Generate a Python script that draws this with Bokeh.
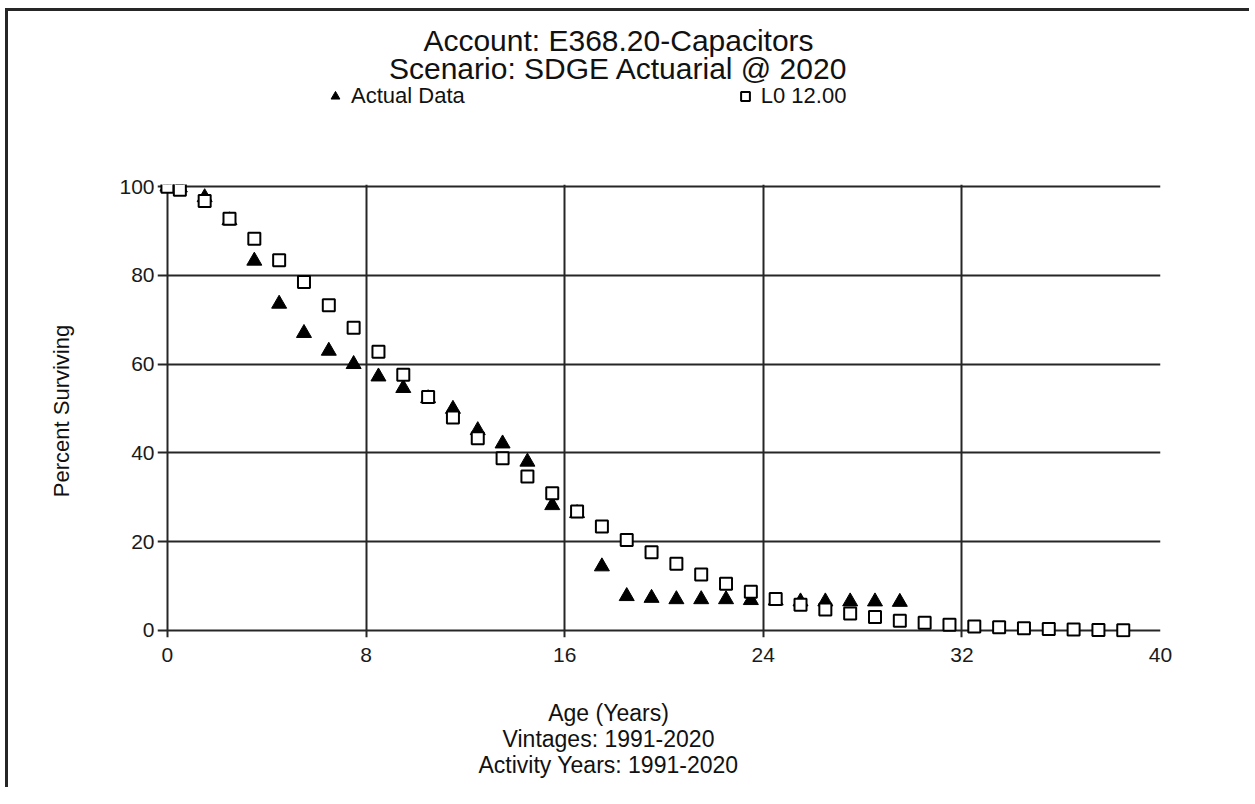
from bokeh.embed import file_html
from bokeh.layouts import column
from bokeh.models import FixedTicker, Label, Legend, LegendItem, Range1d
from bokeh.plotting import figure
from bokeh.resources import INLINE

# Retirement rate study: observed survivors vs. fitted Iowa L0 curve
actual_age = [0, 0.5, 1.5, 2.5, 3.5, 4.5, 5.5, 6.5, 7.5, 8.5, 9.5, 10.5, 11.5,
              12.5, 13.5, 14.5, 15.5, 16.5, 17.5, 18.5, 19.5, 20.5, 21.5, 22.5,
              23.5, 24.5, 25.5, 26.5, 27.5, 28.5, 29.5]
actual_pct = [100.0, 99.8, 97.6, 92.4, 83.3, 73.6, 67.0, 63.0, 60.0, 57.2, 54.6,
              52.3, 49.9, 45.1, 42.1, 38.0, 28.2, 26.4, 14.4, 7.7, 7.3, 7.0, 7.0,
              7.0, 6.8, 6.7, 6.5, 6.5, 6.5, 6.5, 6.4]

curve_age = [0, 0.5, 1.5, 2.5, 3.5, 4.5, 5.5, 6.5, 7.5, 8.5, 9.5, 10.5, 11.5,
             12.5, 13.5, 14.5, 15.5, 16.5, 17.5, 18.5, 19.5, 20.5, 21.5, 22.5,
             23.5, 24.5, 25.5, 26.5, 27.5, 28.5, 29.5, 30.5, 31.5, 32.5, 33.5,
             34.5, 35.5, 36.5, 37.5, 38.5]
curve_pct = [100.0, 99.3, 96.8, 92.8, 88.3, 83.4, 78.5, 73.3, 68.2, 62.8, 57.6,
             52.6, 48.0, 43.3, 38.8, 34.7, 30.9, 26.8, 23.4, 20.4, 17.6, 15.0,
             12.6, 10.5, 8.7, 7.1, 5.8, 4.7, 3.8, 3.0, 2.2, 1.7, 1.3, 0.9, 0.7,
             0.5, 0.3, 0.2, 0.1, 0.05]

x_ticks = [0, 8, 16, 24, 32, 40]
y_ticks = [0, 20, 40, 60, 80, 100]

title_lines = ["Account: E368.20-Capacitors", "Scenario: SDGE Actuarial @ 2020"]
legend_labels = ["Actual Data", "L0 12.00"]
x_label_lines = ["Age (Years)", "Vintages: 1991-2020", "Activity Years: 1991-2020"]
y_label = "Percent Surviving"

FONT = "Liberation Sans"
INK = "#262626"
W = 1244
TITLE_CX = 461         # heading centre, measured from the frame's left edge
CAPTION_CX = 451       # x-caption centre, measured from the frame's left edge


def text_strip(height):
    # plain strip (no axes); its y range lies far above the data, so any
    # series attached to it for the key stays out of view
    f = figure(width=W, height=height, output_backend="svg",
               toolbar_location=None, x_axis_type=None, y_axis_type=None,
               min_border=0, x_range=Range1d(0, 40),
               y_range=Range1d(1000, 1000 + height))
    f.outline_line_color = None
    f.xgrid.visible = False
    f.ygrid.visible = False
    return f


def caption(f, text, cx, y, size, color="#111"):
    f.add_layout(Label(x=cx, y=y, x_units="screen", y_units="screen",
                       text=text, text_align="center", text_baseline="middle",
                       text_font=FONT, text_font_size=size, text_color=color))


# ---------------- main survivor chart ----------------
p = figure(
    width=W, height=507,
    x_range=Range1d(-0.4, 40), y_range=Range1d(-1.6, 100.5),
    output_backend="svg", toolbar_location=None,
    min_border_left=149, min_border_right=92,
    min_border_top=14, min_border_bottom=40,
)
p.outline_line_color = None

# grid lines at the tick values form the box and the short outer tick stubs
for g, ticks in ((p.xgrid, x_ticks), (p.ygrid, y_ticks)):
    g.ticker = FixedTicker(ticks=ticks)
    g.grid_line_color = INK
    g.grid_line_width = 2

for ax, ticks, standoff in ((p.xaxis, x_ticks, 10), (p.yaxis, y_ticks, 3)):
    ax.ticker = FixedTicker(ticks=ticks)
    ax.axis_line_color = None
    ax.major_tick_line_color = None
    ax.minor_tick_line_color = None
    ax.major_tick_out = 0
    ax.major_tick_in = 0
    ax.major_label_text_font = FONT
    ax.major_label_text_font_size = "21px"
    ax.major_label_text_color = "#1a1a1a"
    ax.major_label_standoff = standoff

p.yaxis.axis_label = y_label
p.yaxis.axis_label_text_font = FONT
p.yaxis.axis_label_text_font_size = "22px"
p.yaxis.axis_label_text_font_style = "normal"
p.yaxis.axis_label_text_color = "#111"
p.yaxis.axis_label_standoff = 42

TRI = dict(marker="triangle", size=15, fill_color="black", line_color="black")
SQ = dict(marker="square", size=12, fill_color="white", line_color="black",
          line_width=2)

p.scatter(actual_age, actual_pct, **TRI)
p.scatter(curve_age, curve_pct, **SQ)

# ---------------- heading strip with legend ----------------
top = text_strip(159)
caption(top, title_lines[0], TITLE_CX, 130, "30px")
caption(top, title_lines[1], TITLE_CX, 102, "30px")

key_tri = top.scatter(actual_age, actual_pct, **TRI)
key_sq = top.scatter(curve_age, curve_pct, **SQ)
legend = Legend(
    items=[LegendItem(label=legend_labels[0], renderers=[key_tri]),
           LegendItem(label=legend_labels[1], renderers=[key_sq])],
    orientation="horizontal", location=(167, 61),
    spacing=269, padding=0, margin=0,
    glyph_width=22, glyph_height=22, label_standoff=5,
    label_text_font=FONT, label_text_font_size="22px", label_text_color="#111",
    background_fill_alpha=0, border_line_alpha=0,
)
top.add_layout(legend, "center")

# ---------------- x caption strip ----------------
bottom = text_strip(113)
for line, y in zip(x_label_lines, [78, 52, 26]):
    caption(bottom, line, CAPTION_CX, y, "23px")

page = column(top, p, bottom, spacing=0, styles={
    "margin-left": "8px", "margin-top": "11px",
    "box-shadow": f"-3px -3px 0 0 {INK}",
})

open("out.html", "w").write(file_html(page, INLINE))
